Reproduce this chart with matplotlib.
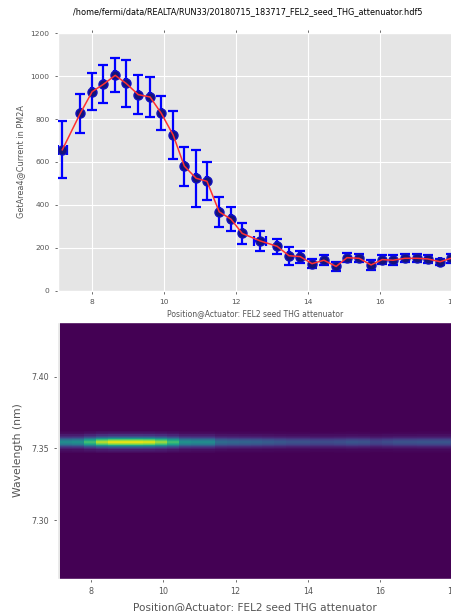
import numpy as np
import matplotlib
matplotlib.use("Agg")
import matplotlib.pyplot as plt

plt.style.use("ggplot")
plt.rcParams['font.family'] = ['DejaVu Sans']

title = "/home/fermi/data/REALTA/RUN33/20180715_183717_FEL2_seed_THG_attenuator.hdf5"
xlabel = "Position@Actuator: FEL2 seed THG attenuator"
ylabel_top = "GetArea4@Current in PM2A"
ylabel_bot = "Wavelength (nm)"

positions = [7.17, 7.67, 8.00, 8.31, 8.64, 8.94, 9.28, 9.61, 9.92, 10.25, 10.56,
             10.89, 11.19, 11.53, 11.86, 12.17, 12.67, 13.14, 13.47, 13.78, 14.11,
             14.44, 14.78, 15.08, 15.42, 15.75, 16.06, 16.36, 16.69, 17.03, 17.33,
             17.67, 17.97]
current = [657, 827, 928, 962, 1004, 967, 914, 903, 827, 726, 581,
           524, 510, 368, 333, 267, 232, 207, 163, 159, 126,
           142, 113, 154, 151, 120, 145, 142, 151, 151, 148,
           135, 151]
current_err = [132, 92, 87, 88, 79, 109, 92, 95, 80, 112, 91,
               134, 88, 70, 55, 50, 45, 34, 43, 28, 22,
               23, 20, 22, 19, 24, 22, 24, 19, 19, 20,
               15, 20]
position_err = [0.13, 0.02, 0.02, 0.02, 0.02, 0.02, 0.02, 0.02, 0.02, 0.02, 0.02,
                0.02, 0.02, 0.02, 0.02, 0.02, 0.17, 0.02, 0.02, 0.02, 0.02,
                0.02, 0.02, 0.02, 0.02, 0.02, 0.02, 0.02, 0.02, 0.02, 0.02,
                0.02, 0.02]

# Spectral line amplitude per image column (normalised)
line_amplitude = [0.50, 0.52, 0.72, 0.92, 1.00, 1.00, 1.00, 0.98, 0.88, 0.72, 0.52,
                  0.50, 0.50, 0.36, 0.34, 0.33, 0.32, 0.30, 0.28, 0.26, 0.26,
                  0.24, 0.24, 0.25, 0.27, 0.26, 0.22, 0.24, 0.26, 0.26, 0.27,
                  0.27, 0.27]
# Line profile across wavelength (nm offsets from the line centre)
profile_offsets = [-0.0075, -0.0055, -0.0035, -0.0018, 0.0, 0.0018, 0.0035, 0.0055, 0.0075]
profile_values = [0.02, 0.08, 0.35, 0.80, 1.00, 0.75, 0.32, 0.07, 0.02]
line_center = 7.3545
wl_min, wl_max = 7.259, 7.438
img_x0, img_x1 = 7.13, 18.0

W, H = 452, 611
dpi = 100
fig = plt.figure(figsize=(W / dpi, H / dpi), dpi=dpi)

# ---------- top panel ----------
ax1 = fig.add_axes([58 / W, 1 - 290.7 / H, 394 / W, 257.4 / H])
ax1.errorbar(positions, current, yerr=current_err, xerr=position_err, fmt='o',
             color='#0000ff', ecolor='#0000ff', elinewidth=1.6, capsize=3.5,
             capthick=1.6, markersize=6.5, markerfacecolor='#14147a',
             markeredgecolor='#1010c0', zorder=3)
ax1.plot(positions, current, '-', color='#ff3030', lw=1.1, zorder=4)
ax1.set_xlim(7.05, 18.0)
ax1.set_ylim(0, 1200)
ax1.set_xticks([8, 10, 12, 14, 16, 18])
ax1.set_yticks([0, 200, 400, 600, 800, 1000, 1200])
ax1.tick_params(axis='both', labelsize=5.4, colors='#555555', length=2.5,
                direction='out', top=True, right=True, width=0.6)
ax1.set_xlabel(xlabel, fontsize=5.5, color='#555555', labelpad=3)
ax1.set_ylabel(ylabel_top, fontsize=5.9, color='#555555', labelpad=4)
ax1.grid(True, color='white', lw=0.8)
fig.text(247.5 / W, 1 - 12 / H, title, ha='center', va='center', fontsize=5.9,
         color='black')

# ---------- bottom panel ----------
ax2 = fig.add_axes([57 / W, 1 - 579 / H, 395 / W, 257 / H])
n_rows = 240
wl = np.linspace(wl_min, wl_max, n_rows)
prof = np.interp(wl - line_center, profile_offsets, profile_values, left=0.0, right=0.0)
img = np.outer(prof, np.array(line_amplitude))
ax2.imshow(img, origin='lower', aspect='auto', cmap='viridis', vmin=0, vmax=1,
           extent=[img_x0, img_x1, wl_min, wl_max], interpolation='nearest')
ax2.set_xlim(7.05, 18.0)
ax2.set_ylim(wl_min, wl_max)
ax2.set_xticks([8, 10, 12, 14, 16, 18])
ax2.set_yticks([7.30, 7.35, 7.40])
ax2.set_yticklabels(['7.30', '7.35', '7.40'])
ax2.grid(False)
ax2.tick_params(axis='both', labelsize=5.8, colors='#555555', length=2.5,
                direction='out', width=0.6)
ax2.set_xlabel(xlabel, fontsize=7.6, color='#555555', labelpad=4)
ax2.set_ylabel(ylabel_bot, fontsize=7.8, color='#555555', labelpad=6)

fig.savefig("out.png", dpi=dpi)
